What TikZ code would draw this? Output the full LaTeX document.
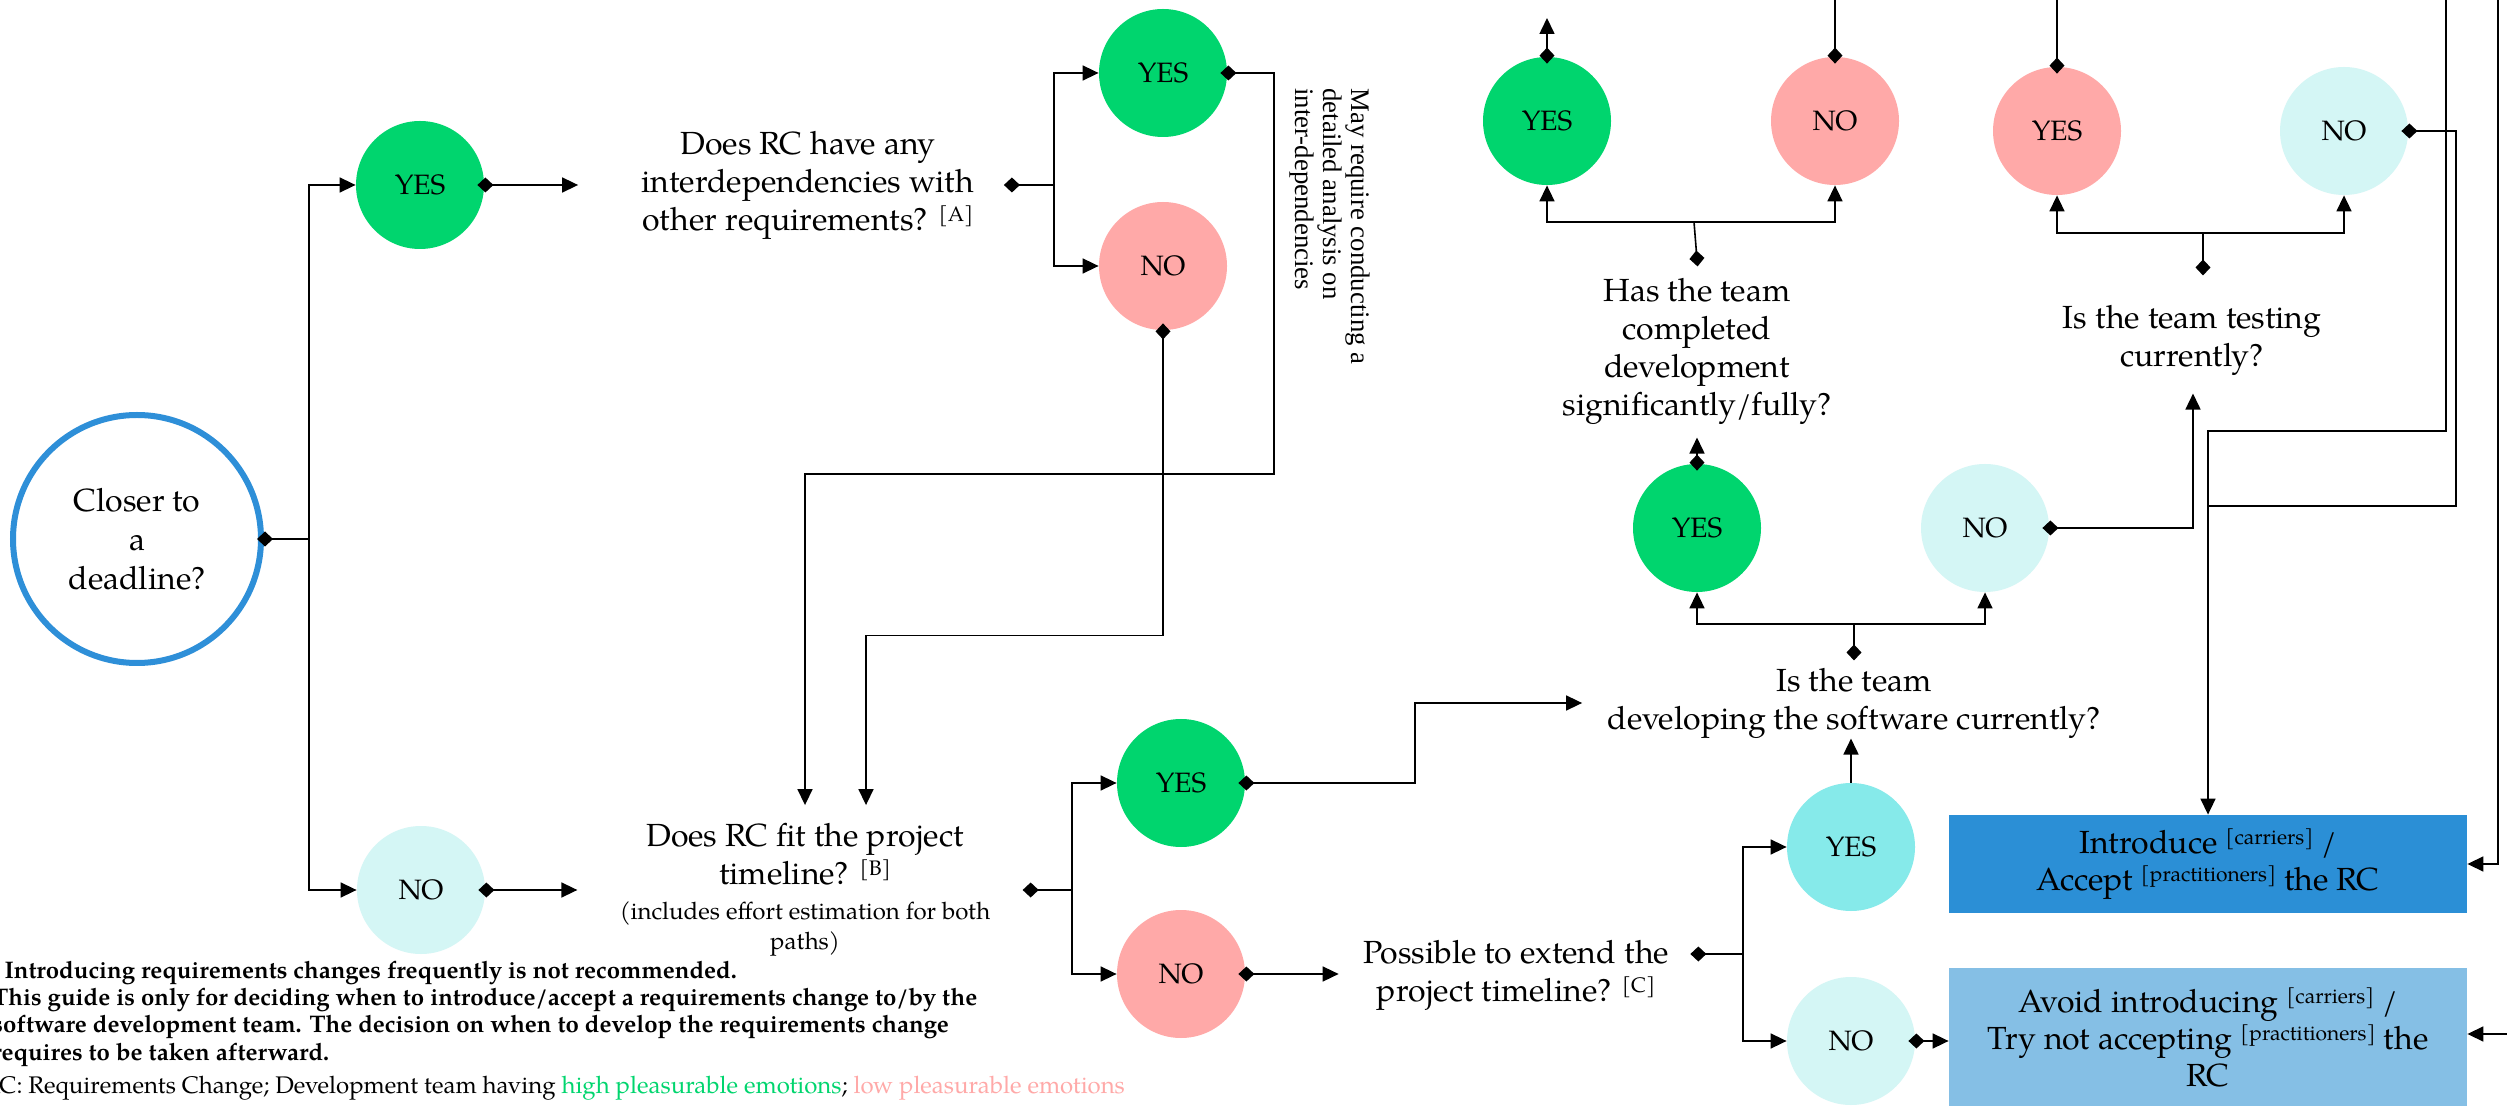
\documentclass[tikz,border=0pt]{standalone}
\usepackage{fontspec}
\setmainfont{TeX Gyre Pagella}
\newfontfamily\rotfont{Liberation Serif}
\usetikzlibrary{arrows.meta}
\definecolor{cgreen}{HTML}{00D56E}
\definecolor{cpink}{HTML}{FFA9A8}
\definecolor{clcyan}{HTML}{D4F6F5}
\definecolor{ccyan}{HTML}{86EAEA}
\definecolor{cintro}{HTML}{2B8FD6}
\definecolor{cavoid}{HTML}{85BFE5}
\definecolor{cborder}{HTML}{2E8FD8}
\newcommand{\sps}[1]{\raisebox{4.5pt}{\fontsize{10.5}{12}\selectfont[#1]}}
\newcommand{\smallf}{\fontsize{12}{15}\selectfont}
\tikzset{
  yn/.style={circle, inner sep=0pt, minimum size=64pt, font=\fontsize{14}{16}\selectfont},
  ygreen/.style={yn, fill=cgreen},
  ypink/.style={yn, fill=cpink},
  ylcyan/.style={yn, fill=clcyan},
  ycyan/.style={yn, fill=ccyan},
  qt/.style={align=center, inner sep=0pt, font=\fontsize{16}{19}\selectfont},
  conn/.style={line width=0.8pt},
  tl/.style={conn, arrows={Diamond[length=8pt,width=7.5pt]-}, shorten <=-3.5pt},
  ar/.style={conn, arrows={-Triangle[length=8pt,width=7.5pt]}},
  tla/.style={conn, arrows={Diamond[length=8pt,width=7.5pt]-Triangle[length=8pt,width=7.5pt]}, shorten <=-3.5pt},
  boxn/.style={inner sep=0pt, minimum width=259pt, align=center, font=\fontsize{16}{18.5}\selectfont},
  foot/.style={anchor=base west, inner sep=0pt},
  footb/.style={foot, font=\bfseries\fontsize{12}{14}\selectfont},
}
\begin{document}
\begin{tikzpicture}[x=0.5pt,y=-0.5pt]
\useasboundingbox (0,0) rectangle (2507,1106);
\clip (0,0) rectangle (2507,1106);
\fill[white] (0,0) rectangle (2507,1106);

% start node
\node[circle, draw=cborder, line width=3pt, minimum size=124pt, inner sep=0pt, align=center,
      font=\fontsize{16}{19.5}\selectfont] (close) at (137,539) {Closer to\\a\\deadline?};

% answer circles
\node[ygreen] (yes1) at (420,185) {YES};
\node[ylcyan] (no1) at (421,890) {NO};
\node[ygreen] (yes2) at (1163,73) {YES};
\node[ypink]  (no2) at (1163,266) {NO};
\node[ygreen] (yes5) at (1181,783) {YES};
\node[ypink]  (no5) at (1181,974) {NO};
\node[ygreen] (yes6) at (1697,528) {YES};
\node[ylcyan] (no6) at (1985,528) {NO};
\node[ygreen] (yes3) at (1547,121) {YES};
\node[ypink]  (no3) at (1835,121) {NO};
\node[ypink]  (yes4) at (2057,131) {YES};
\node[ylcyan] (no4) at (2344,131) {NO};
\node[ycyan]  (yes7) at (1851,847) {YES};
\node[ylcyan] (no7) at (1851,1041) {NO};

% questions
\node[qt] (q1) at (808,185) {Does RC have any\\interdependencies with\\other requirements? \sps{A}};
\node[qt] (q2) at (805,890) {Does RC fit the project\\timeline? \sps{B}\\[-1.5pt]{\smallf (includes effort estimation for both}\\[-4pt]{\smallf paths)}};
\node[qt] (q3) at (1854,703) {Is the team\\developing the software currently?};
\node[qt] (q4) at (1697,351) {Has the team\\completed\\development\\significantly/fully?};
\node[qt] (q5) at (2192,340) {Is the team testing\\currently?};
\node[qt] (q6) at (1516,975) {Possible to extend the\\project timeline? \sps{C}};

% outcome boxes
\node[boxn, fill=cintro, minimum height=49pt] (intro) at (2208,864) {Introduce \sps{carriers} /\\Accept \sps{practitioners} the RC};
\node[boxn, fill=cavoid, minimum height=69pt] (avoid) at (2208,1037) {Avoid introducing \sps{carriers} /\\Try not accepting \sps{practitioners} the\\RC};

% rotated remark
\node[rotate=-90, anchor=north west, align=left, inner sep=0pt, font=\rotfont\fontsize{13.4}{13.8}\selectfont] (rnote) at (1370,88) {May require conducting a\\detailed analysis on\\inter-dependencies};

% footnotes
\node[footb] (f1) at (-12,978) {* Introducing requirements changes frequently is not recommended.};
\node[footb] (f2) at (-8,1005) {This guide is only for deciding when to introduce/accept a requirements change to/by the};
\node[footb] (f3) at (-8,1032) {software development team. The decision on when to develop the requirements change};
\node[footb] (f4) at (-8,1060) {requires to be taken afterward.};
\node[foot, font=\fontsize{12}{14}\selectfont] (f5) at (-16,1093) {RC: Requirements Change; Development team having \textcolor{cgreen}{high pleasurable emotions}; \textcolor{cpink}{low pleasurable emotions}};

% helper coordinates
\coordinate (jc) at (309,539);
\coordinate (b1) at (1054,185);
\coordinate (b2) at (1072,890);
\coordinate (b3) at (1854,624);
\coordinate (b4) at (1694,222);
\coordinate (b5) at (2203,233);
\coordinate (b6) at (1743,954);
\coordinate (topedge) at (0,-20);
\coordinate (top3) at (1547,18);
\coordinate (in1) at (2446,-20);
\coordinate (in2) at (2498,-20);
\coordinate (in3) at (2540,1034);
\coordinate (q6w) at ([xshift=-12pt]q6.west);

% connectors
\draw[tl] (close.east) -- (jc);
\draw[ar] (jc) |- (yes1.west);
\draw[ar] (jc) |- (no1.west);
\draw[tla] (yes1.east) -- ([xshift=-31.5pt]q1.west);
\draw[tla] (no1.east) -- ([xshift=-21pt]q2.west);

\draw[tl] ([xshift=18pt]q1.east) -- (b1);
\draw[ar] (b1) |- (yes2.west);
\draw[ar] (b1) |- (no2.west);
\draw[tla] (yes2.east) -| (1274,474) -| ([yshift=9pt]q2.north);
\draw[tla] (no2.south) -- ++(0,305) -| ([xshift=30.5pt,yshift=9pt]q2.north);

\draw[tl] ([xshift=19.5pt]q2.east) -- (b2);
\draw[ar] (b2) |- (yes5.west);
\draw[ar] (b2) |- (no5.west);
\draw[tla] (yes5.east) -- (1415,783) |- ([xshift=-12.5pt]q3.west);
\draw[tla] (no5.east) -- (no5.east -| q6w);

\draw[tl] ([xshift=14pt,yshift=10.5pt]q6.east) -- (b6);
\draw[ar] (b6) |- (yes7.west);
\draw[ar] (b6) |- (no7.west);
\draw[ar] (yes7.north) -- (yes7.north |- q3.south);
\draw[tla] (no7.east) -- (no7.east -| avoid.west);

\draw[tl] ([yshift=7pt]q3.north) -- (b3);
\draw[ar] (b3) -| (yes6.south);
\draw[ar] (b3) -| (no6.south);
\draw[tla] (yes6.north) -- ([yshift=-6.5pt]q4.south);
\draw[tla] (no6.east) -| ([xshift=0.5pt,yshift=-9pt]q5.south);

\draw[tl] ([yshift=9pt]q4.north) -- (b4);
\draw[ar] (b4) -| (yes3.south);
\draw[ar] (b4) -| (no3.south);
\draw[tl] ([xshift=5.5pt,yshift=18pt]q5.north) -- (b5);
\draw[ar] (b5) -| (yes4.south);
\draw[ar] (b5) -| (no4.south);

\draw[tla] (yes3.north) -- (yes3.north |- top3);
\draw[tl] (no3.north) -- (no3.north |- topedge);
\draw[tl] (yes4.north) -- (yes4.north |- topedge);

\draw[tl] (no4.east) -| (2456,506) -- (2208,506);
\draw[ar] (in1) |- (2208,431) -- (intro.north);
\draw[ar] (in2) |- (intro.east);
\draw[ar] (in3) -- (in3 -| avoid.east);
\end{tikzpicture}
\end{document}
